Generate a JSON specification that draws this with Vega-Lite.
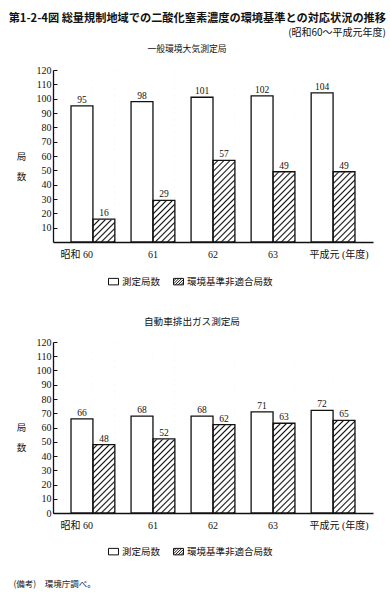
{
  "$schema": "https://vega.github.io/schema/vega-lite/v6.json",
  "padding": {"left": 8, "top": 13, "right": 4, "bottom": 2},
  "title": {
    "text": "第1-2-4図 総量規制地域での二酸化窒素濃度の環境基準との対応状況の推移",
    "subtitle": "(昭和60～平成元年度)",
    "anchor": "end",
    "dx": 13,
    "font": "Noto Sans CJK JP",
    "fontSize": 11.2,
    "fontWeight": "bold",
    "subtitleFont": "Noto Sans CJK JP",
    "subtitleFontSize": 10,
    "subtitleColor": "#111",
    "subtitlePadding": 4,
    "offset": 7,
    "color": "#111"
  },
  "data": {
    "values": [
      {"panel": "一般環境大気測定局", "year": "60", "series": "測定局数", "value": 95},
      {"panel": "一般環境大気測定局", "year": "61", "series": "測定局数", "value": 98},
      {"panel": "一般環境大気測定局", "year": "62", "series": "測定局数", "value": 101},
      {"panel": "一般環境大気測定局", "year": "63", "series": "測定局数", "value": 102},
      {"panel": "一般環境大気測定局", "year": "元", "series": "測定局数", "value": 104},
      {"panel": "一般環境大気測定局", "year": "60", "series": "環境基準非適合局数", "value": 16},
      {"panel": "一般環境大気測定局", "year": "61", "series": "環境基準非適合局数", "value": 29},
      {"panel": "一般環境大気測定局", "year": "62", "series": "環境基準非適合局数", "value": 57},
      {"panel": "一般環境大気測定局", "year": "63", "series": "環境基準非適合局数", "value": 49},
      {"panel": "一般環境大気測定局", "year": "元", "series": "環境基準非適合局数", "value": 49},
      {"panel": "自動車排出ガス測定局", "year": "60", "series": "測定局数", "value": 66},
      {"panel": "自動車排出ガス測定局", "year": "61", "series": "測定局数", "value": 68},
      {"panel": "自動車排出ガス測定局", "year": "62", "series": "測定局数", "value": 68},
      {"panel": "自動車排出ガス測定局", "year": "63", "series": "測定局数", "value": 71},
      {"panel": "自動車排出ガス測定局", "year": "元", "series": "測定局数", "value": 72},
      {"panel": "自動車排出ガス測定局", "year": "60", "series": "環境基準非適合局数", "value": 48},
      {"panel": "自動車排出ガス測定局", "year": "61", "series": "環境基準非適合局数", "value": 52},
      {"panel": "自動車排出ガス測定局", "year": "62", "series": "環境基準非適合局数", "value": 62},
      {"panel": "自動車排出ガス測定局", "year": "63", "series": "環境基準非適合局数", "value": 63},
      {"panel": "自動車排出ガス測定局", "year": "元", "series": "環境基準非適合局数", "value": 65}
    ]
  },
  "spacing": 30,
  "resolve": {"scale": {"shape": "independent"}, "legend": {"shape": "independent"}},
  "vconcat": [
    {
      "width": 320,
      "height": 172,
      "title": {"text": "一般環境大気測定局", "font": "Noto Sans CJK JP", "fontSize": 8.8, "fontWeight": "normal", "anchor": "middle", "dx": -26, "offset": 11, "color": "#111"},
      "transform": [{"filter": "datum.panel === '一般環境大気測定局'"}],
      "encoding": {
        "x": {
          "field": "year", "type": "nominal", "sort": null,
          "scale": {"domain": ["60", "61", "62", "63", "元"], "paddingInner": 0.27, "paddingOuter": 0.3},
          "axis": {
            "title": null, "ticks": false, "labelAngle": 0, "labelPadding": 7,
            "labelExpr": "datum.value === '60' ? '昭和 60' : datum.value === '元' ? '平成元 (年度)' : datum.value",
            "labelAlign": {"condition": {"test": "datum.value === '60'", "value": "right"}, "value": "center"},
            "labelOffset": {"condition": {"test": "datum.value === '元'", "value": 6}, "value": 0},
            "labelFont": "Liberation Serif, Noto Sans CJK JP", "labelFontSize": 10, "labelColor": "#111",
            "domainColor": "#111", "domainWidth": 1.3
          }
        },
        "xOffset": {"field": "series", "type": "nominal", "scale": {"domain": ["測定局数", "環境基準非適合局数"], "paddingInner": 0, "paddingOuter": 0}},
        "y": {
          "field": "value", "type": "quantitative",
          "scale": {"domain": [0, 120], "nice": false},
          "axis": {
            "values": [10, 20, 30, 40, 50, 60, 70, 80, 90, 100, 110, 120],
            "title": ["局", "", "数"], "titleAngle": 0, "titleAlign": "center", "titleBaseline": "middle",
            "titleX": -32, "titleY": 86, "titleLineHeight": 20,
            "titleFont": "Noto Sans CJK JP", "titleFontSize": 9.5, "titleFontWeight": "normal", "titleColor": "#111",
            "tickSize": -4, "tickColor": "#111", "tickWidth": 1, "labelPadding": 6,
            "labelFont": "Liberation Serif", "labelFontSize": 10, "labelColor": "#111",
            "domainColor": "#111", "domainWidth": 1.3, "grid": false
          }
        }
      },
      "layer": [
        {
          "mark": {"type": "point", "size": 324, "filled": true, "fill": "white", "stroke": "#111", "strokeWidth": 1, "opacity": 1},
          "encoding": {
            "y": {"datum": 8, "type": "quantitative"},
            "shape": {
              "field": "series", "type": "nominal",
              "scale": {"domain": ["測定局数", "環境基準非適合局数"], "range": ["M-1,-0.65H1V0.65H-1Z", "M-1,-0.65H1V0.65H-1Z M-1,-0.1L-0.45,-0.65 M-1,0.45L0.1,-0.65 M-0.65,0.65L0.65,-0.65 M-0.1,0.65L1,-0.45 M0.45,0.65L1,0.1"]},
              "legend": {"title": null, "orient": "none", "legendX": 55, "legendY": 206, "direction": "horizontal", "padding": 0, "labelFont": "Noto Sans CJK JP", "labelFontSize": 9.5, "labelColor": "#111", "labelOffset": 3, "columnPadding": 10, "symbolStrokeWidth": 1}
            }
          }
        },
        {
          "transform": [{"filter": "datum.series === '環境基準非適合局数'"}],
          "mark": {"type": "bar", "strokeWidth": 0, "fill": {"gradient": "linear", "x1": 0, "y1": 0, "x2": 0.1419, "y2": 1.1098, "stops": [
            {"offset": 0, "color": "#fff"},
            {"offset": 0.0156, "color": "#fff"}, {"offset": 0.0234, "color": "#111"}, {"offset": 0.0313, "color": "#fff"},
            {"offset": 0.0469, "color": "#fff"}, {"offset": 0.0547, "color": "#111"}, {"offset": 0.0625, "color": "#fff"},
            {"offset": 0.0781, "color": "#fff"}, {"offset": 0.0859, "color": "#111"}, {"offset": 0.0938, "color": "#fff"},
            {"offset": 0.1094, "color": "#fff"}, {"offset": 0.1172, "color": "#111"}, {"offset": 0.125, "color": "#fff"},
            {"offset": 0.1406, "color": "#fff"}, {"offset": 0.1484, "color": "#111"}, {"offset": 0.1563, "color": "#fff"},
            {"offset": 0.1719, "color": "#fff"}, {"offset": 0.1797, "color": "#111"}, {"offset": 0.1875, "color": "#fff"},
            {"offset": 0.2031, "color": "#fff"}, {"offset": 0.2109, "color": "#111"}, {"offset": 0.2188, "color": "#fff"},
            {"offset": 0.2344, "color": "#fff"}, {"offset": 0.2422, "color": "#111"}, {"offset": 0.25, "color": "#fff"},
            {"offset": 0.2656, "color": "#fff"}, {"offset": 0.2734, "color": "#111"}, {"offset": 0.2813, "color": "#fff"},
            {"offset": 0.2969, "color": "#fff"}, {"offset": 0.3047, "color": "#111"}, {"offset": 0.3125, "color": "#fff"},
            {"offset": 0.3281, "color": "#fff"}, {"offset": 0.3359, "color": "#111"}, {"offset": 0.3438, "color": "#fff"},
            {"offset": 0.3594, "color": "#fff"}, {"offset": 0.3672, "color": "#111"}, {"offset": 0.375, "color": "#fff"},
            {"offset": 0.3906, "color": "#fff"}, {"offset": 0.3984, "color": "#111"}, {"offset": 0.4063, "color": "#fff"},
            {"offset": 0.4219, "color": "#fff"}, {"offset": 0.4297, "color": "#111"}, {"offset": 0.4375, "color": "#fff"},
            {"offset": 0.4531, "color": "#fff"}, {"offset": 0.4609, "color": "#111"}, {"offset": 0.4688, "color": "#fff"},
            {"offset": 0.4844, "color": "#fff"}, {"offset": 0.4922, "color": "#111"}, {"offset": 0.5, "color": "#fff"},
            {"offset": 0.5156, "color": "#fff"}, {"offset": 0.5234, "color": "#111"}, {"offset": 0.5313, "color": "#fff"},
            {"offset": 0.5469, "color": "#fff"}, {"offset": 0.5547, "color": "#111"}, {"offset": 0.5625, "color": "#fff"},
            {"offset": 0.5781, "color": "#fff"}, {"offset": 0.5859, "color": "#111"}, {"offset": 0.5938, "color": "#fff"},
            {"offset": 0.6094, "color": "#fff"}, {"offset": 0.6172, "color": "#111"}, {"offset": 0.625, "color": "#fff"},
            {"offset": 0.6406, "color": "#fff"}, {"offset": 0.6484, "color": "#111"}, {"offset": 0.6563, "color": "#fff"},
            {"offset": 0.6719, "color": "#fff"}, {"offset": 0.6797, "color": "#111"}, {"offset": 0.6875, "color": "#fff"},
            {"offset": 0.7031, "color": "#fff"}, {"offset": 0.7109, "color": "#111"}, {"offset": 0.7188, "color": "#fff"},
            {"offset": 0.7344, "color": "#fff"}, {"offset": 0.7422, "color": "#111"}, {"offset": 0.75, "color": "#fff"},
            {"offset": 0.7656, "color": "#fff"}, {"offset": 0.7734, "color": "#111"}, {"offset": 0.7813, "color": "#fff"},
            {"offset": 0.7969, "color": "#fff"}, {"offset": 0.8047, "color": "#111"}, {"offset": 0.8125, "color": "#fff"},
            {"offset": 0.8281, "color": "#fff"}, {"offset": 0.8359, "color": "#111"}, {"offset": 0.8438, "color": "#fff"},
            {"offset": 0.8594, "color": "#fff"}, {"offset": 0.8672, "color": "#111"}, {"offset": 0.875, "color": "#fff"},
            {"offset": 0.8906, "color": "#fff"}, {"offset": 0.8984, "color": "#111"}, {"offset": 0.9063, "color": "#fff"},
            {"offset": 0.9219, "color": "#fff"}, {"offset": 0.9297, "color": "#111"}, {"offset": 0.9375, "color": "#fff"},
            {"offset": 0.9531, "color": "#fff"}, {"offset": 0.9609, "color": "#111"}, {"offset": 0.9688, "color": "#fff"},
            {"offset": 0.9844, "color": "#fff"}, {"offset": 0.9922, "color": "#111"}, {"offset": 1, "color": "#fff"}
          ]}},
          "encoding": {"y": {"datum": 120, "type": "quantitative"}, "y2": {"datum": 0}}
        },
        {
          "transform": [{"filter": "datum.series === '環境基準非適合局数'"}],
          "mark": {"type": "bar", "fill": "white", "stroke": "white", "strokeWidth": 1},
          "encoding": {"y2": {"datum": 120}}
        },
        {
          "mark": {"type": "bar", "fill": "white", "stroke": "#111", "strokeWidth": 1.3},
          "encoding": {"fillOpacity": {"condition": {"test": "datum.series === '測定局数'", "value": 1}, "value": 0}}
        },
        {
          "mark": {"type": "text", "baseline": "alphabetic", "dy": -3, "font": "Liberation Serif", "fontSize": 9.5, "color": "#111"},
          "encoding": {"text": {"field": "value", "type": "quantitative"}}
        }
      ]
    },
    {
      "width": 320,
      "height": 171,
      "title": {"text": "自動車排出ガス測定局", "font": "Noto Sans CJK JP", "fontSize": 9.6, "fontWeight": "normal", "anchor": "middle", "dx": -21, "offset": 10, "color": "#111"},
      "transform": [{"filter": "datum.panel === '自動車排出ガス測定局'"}],
      "encoding": {
        "x": {
          "field": "year", "type": "nominal", "sort": null,
          "scale": {"domain": ["60", "61", "62", "63", "元"], "paddingInner": 0.27, "paddingOuter": 0.3},
          "axis": {
            "title": "(備考)　環境庁調べ。", "titleX": -40, "titleY": 70, "titleAlign": "left", "titleAnchor": "start", "titleBaseline": "middle",
            "titleFont": "Noto Sans CJK JP", "titleFontSize": 8.5, "titleFontWeight": "normal", "titleColor": "#111",
            "ticks": false, "labelAngle": 0, "labelPadding": 7,
            "labelExpr": "datum.value === '60' ? '昭和 60' : datum.value === '元' ? '平成元 (年度)' : datum.value",
            "labelAlign": {"condition": {"test": "datum.value === '60'", "value": "right"}, "value": "center"},
            "labelOffset": {"condition": {"test": "datum.value === '元'", "value": 6}, "value": 0},
            "labelFont": "Liberation Serif, Noto Sans CJK JP", "labelFontSize": 10, "labelColor": "#111",
            "domainColor": "#111", "domainWidth": 1.3
          }
        },
        "xOffset": {"field": "series", "type": "nominal", "scale": {"domain": ["測定局数", "環境基準非適合局数"], "paddingInner": 0, "paddingOuter": 0}},
        "y": {
          "field": "value", "type": "quantitative",
          "scale": {"domain": [0, 120], "nice": false},
          "axis": {
            "values": [0, 10, 20, 30, 40, 50, 60, 70, 80, 90, 100, 110, 120],
            "title": ["局", "", "数"], "titleAngle": 0, "titleAlign": "center", "titleBaseline": "middle",
            "titleX": -32, "titleY": 85, "titleLineHeight": 20,
            "titleFont": "Noto Sans CJK JP", "titleFontSize": 9.5, "titleFontWeight": "normal", "titleColor": "#111",
            "tickSize": -4, "tickColor": "#111", "tickWidth": 1, "labelPadding": 6,
            "labelFont": "Liberation Serif", "labelFontSize": 10, "labelColor": "#111",
            "domainColor": "#111", "domainWidth": 1.3, "grid": false
          }
        }
      },
      "layer": [
        {
          "mark": {"type": "point", "size": 324, "filled": true, "fill": "white", "stroke": "#111", "strokeWidth": 1, "opacity": 1},
          "encoding": {
            "y": {"datum": 8, "type": "quantitative"},
            "shape": {
              "field": "series", "type": "nominal",
              "scale": {"domain": ["測定局数", "環境基準非適合局数"], "range": ["M-1,-0.65H1V0.65H-1Z", "M-1,-0.65H1V0.65H-1Z M-1,-0.1L-0.45,-0.65 M-1,0.45L0.1,-0.65 M-0.65,0.65L0.65,-0.65 M-0.1,0.65L1,-0.45 M0.45,0.65L1,0.1"]},
              "legend": {"title": null, "orient": "none", "legendX": 55, "legendY": 204, "direction": "horizontal", "padding": 0, "labelFont": "Noto Sans CJK JP", "labelFontSize": 9.5, "labelColor": "#111", "labelOffset": 3, "columnPadding": 10, "symbolStrokeWidth": 1}
            }
          }
        },
        {
          "transform": [{"filter": "datum.series === '環境基準非適合局数'"}],
          "mark": {"type": "bar", "strokeWidth": 0, "fill": {"gradient": "linear", "x1": 0, "y1": 0, "x2": 0.1419, "y2": 1.1098, "stops": [
            {"offset": 0, "color": "#fff"},
            {"offset": 0.0156, "color": "#fff"}, {"offset": 0.0234, "color": "#111"}, {"offset": 0.0313, "color": "#fff"},
            {"offset": 0.0469, "color": "#fff"}, {"offset": 0.0547, "color": "#111"}, {"offset": 0.0625, "color": "#fff"},
            {"offset": 0.0781, "color": "#fff"}, {"offset": 0.0859, "color": "#111"}, {"offset": 0.0938, "color": "#fff"},
            {"offset": 0.1094, "color": "#fff"}, {"offset": 0.1172, "color": "#111"}, {"offset": 0.125, "color": "#fff"},
            {"offset": 0.1406, "color": "#fff"}, {"offset": 0.1484, "color": "#111"}, {"offset": 0.1563, "color": "#fff"},
            {"offset": 0.1719, "color": "#fff"}, {"offset": 0.1797, "color": "#111"}, {"offset": 0.1875, "color": "#fff"},
            {"offset": 0.2031, "color": "#fff"}, {"offset": 0.2109, "color": "#111"}, {"offset": 0.2188, "color": "#fff"},
            {"offset": 0.2344, "color": "#fff"}, {"offset": 0.2422, "color": "#111"}, {"offset": 0.25, "color": "#fff"},
            {"offset": 0.2656, "color": "#fff"}, {"offset": 0.2734, "color": "#111"}, {"offset": 0.2813, "color": "#fff"},
            {"offset": 0.2969, "color": "#fff"}, {"offset": 0.3047, "color": "#111"}, {"offset": 0.3125, "color": "#fff"},
            {"offset": 0.3281, "color": "#fff"}, {"offset": 0.3359, "color": "#111"}, {"offset": 0.3438, "color": "#fff"},
            {"offset": 0.3594, "color": "#fff"}, {"offset": 0.3672, "color": "#111"}, {"offset": 0.375, "color": "#fff"},
            {"offset": 0.3906, "color": "#fff"}, {"offset": 0.3984, "color": "#111"}, {"offset": 0.4063, "color": "#fff"},
            {"offset": 0.4219, "color": "#fff"}, {"offset": 0.4297, "color": "#111"}, {"offset": 0.4375, "color": "#fff"},
            {"offset": 0.4531, "color": "#fff"}, {"offset": 0.4609, "color": "#111"}, {"offset": 0.4688, "color": "#fff"},
            {"offset": 0.4844, "color": "#fff"}, {"offset": 0.4922, "color": "#111"}, {"offset": 0.5, "color": "#fff"},
            {"offset": 0.5156, "color": "#fff"}, {"offset": 0.5234, "color": "#111"}, {"offset": 0.5313, "color": "#fff"},
            {"offset": 0.5469, "color": "#fff"}, {"offset": 0.5547, "color": "#111"}, {"offset": 0.5625, "color": "#fff"},
            {"offset": 0.5781, "color": "#fff"}, {"offset": 0.5859, "color": "#111"}, {"offset": 0.5938, "color": "#fff"},
            {"offset": 0.6094, "color": "#fff"}, {"offset": 0.6172, "color": "#111"}, {"offset": 0.625, "color": "#fff"},
            {"offset": 0.6406, "color": "#fff"}, {"offset": 0.6484, "color": "#111"}, {"offset": 0.6563, "color": "#fff"},
            {"offset": 0.6719, "color": "#fff"}, {"offset": 0.6797, "color": "#111"}, {"offset": 0.6875, "color": "#fff"},
            {"offset": 0.7031, "color": "#fff"}, {"offset": 0.7109, "color": "#111"}, {"offset": 0.7188, "color": "#fff"},
            {"offset": 0.7344, "color": "#fff"}, {"offset": 0.7422, "color": "#111"}, {"offset": 0.75, "color": "#fff"},
            {"offset": 0.7656, "color": "#fff"}, {"offset": 0.7734, "color": "#111"}, {"offset": 0.7813, "color": "#fff"},
            {"offset": 0.7969, "color": "#fff"}, {"offset": 0.8047, "color": "#111"}, {"offset": 0.8125, "color": "#fff"},
            {"offset": 0.8281, "color": "#fff"}, {"offset": 0.8359, "color": "#111"}, {"offset": 0.8438, "color": "#fff"},
            {"offset": 0.8594, "color": "#fff"}, {"offset": 0.8672, "color": "#111"}, {"offset": 0.875, "color": "#fff"},
            {"offset": 0.8906, "color": "#fff"}, {"offset": 0.8984, "color": "#111"}, {"offset": 0.9063, "color": "#fff"},
            {"offset": 0.9219, "color": "#fff"}, {"offset": 0.9297, "color": "#111"}, {"offset": 0.9375, "color": "#fff"},
            {"offset": 0.9531, "color": "#fff"}, {"offset": 0.9609, "color": "#111"}, {"offset": 0.9688, "color": "#fff"},
            {"offset": 0.9844, "color": "#fff"}, {"offset": 0.9922, "color": "#111"}, {"offset": 1, "color": "#fff"}
          ]}},
          "encoding": {"y": {"datum": 120, "type": "quantitative"}, "y2": {"datum": 0}}
        },
        {
          "transform": [{"filter": "datum.series === '環境基準非適合局数'"}],
          "mark": {"type": "bar", "fill": "white", "stroke": "white", "strokeWidth": 1},
          "encoding": {"y2": {"datum": 120}}
        },
        {
          "mark": {"type": "bar", "fill": "white", "stroke": "#111", "strokeWidth": 1.3},
          "encoding": {"fillOpacity": {"condition": {"test": "datum.series === '測定局数'", "value": 1}, "value": 0}}
        },
        {
          "mark": {"type": "text", "baseline": "alphabetic", "dy": -3, "font": "Liberation Serif", "fontSize": 9.5, "color": "#111"},
          "encoding": {"text": {"field": "value", "type": "quantitative"}}
        }
      ]
    }
  ],
  "config": {
    "view": {"stroke": null},
    "font": "Noto Sans CJK JP",
    "axis": {"grid": false}
  }
}
